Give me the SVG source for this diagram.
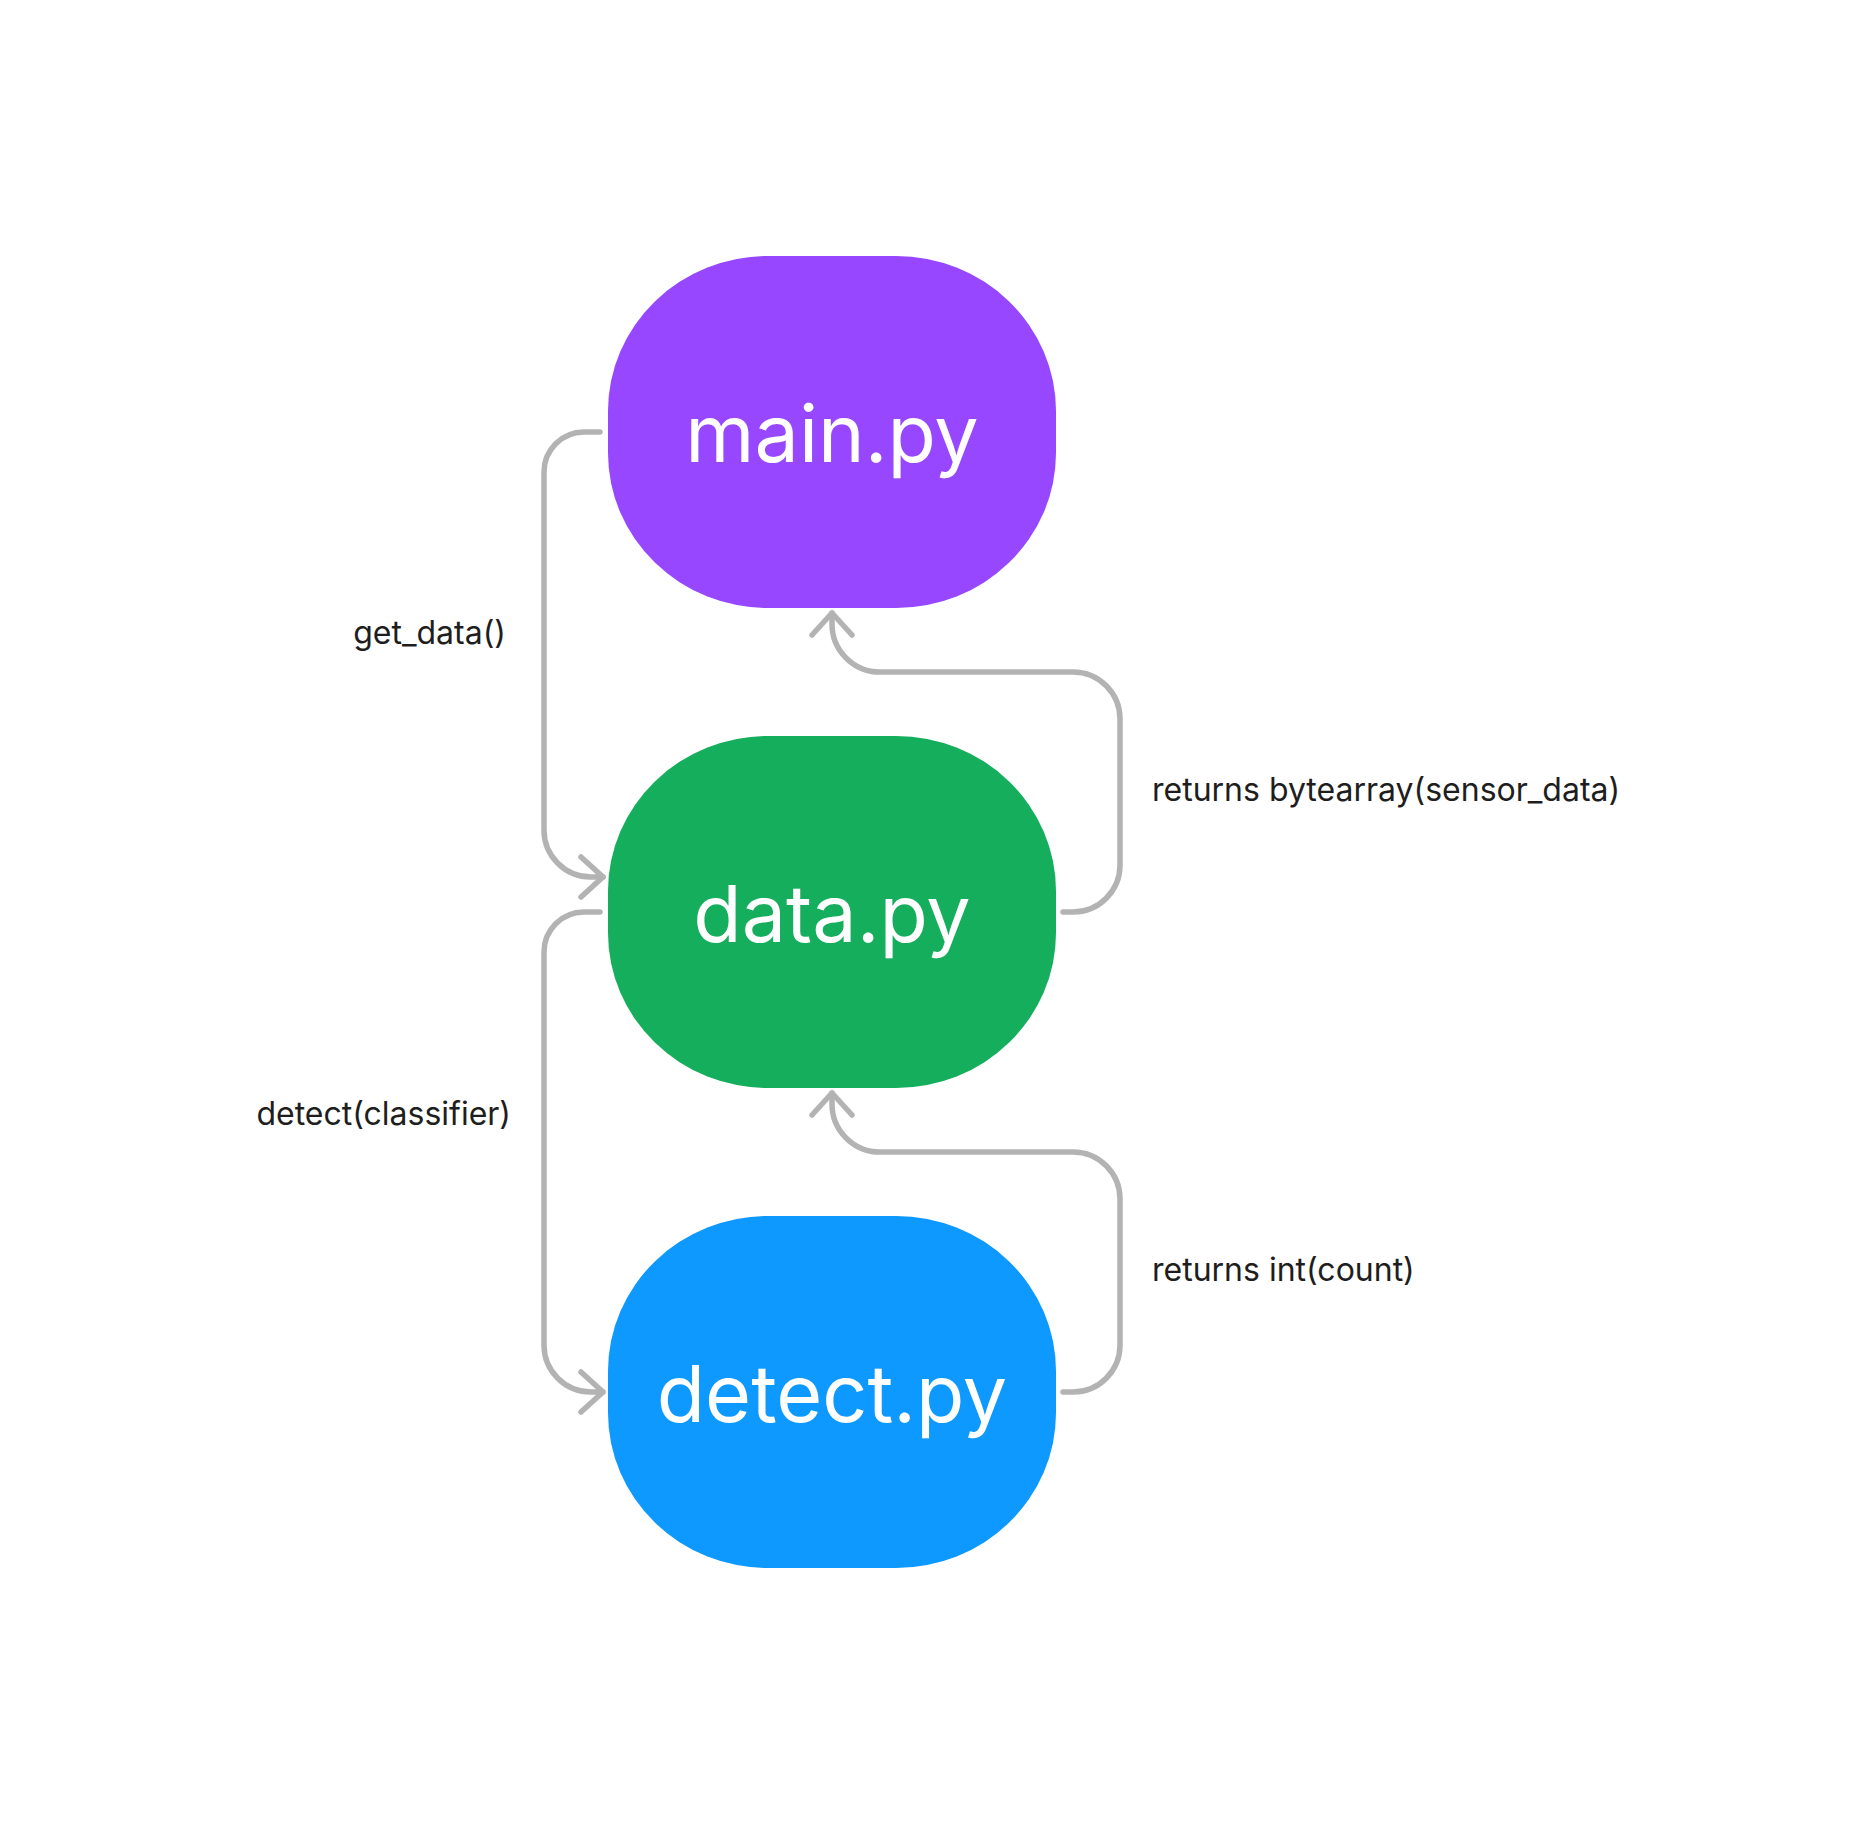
<svg xmlns="http://www.w3.org/2000/svg" width="1870" height="1824" viewBox="0 0 1870 1824">
<style>
.node-label{font-family:Inter,"Noto Sans","Liberation Sans",sans-serif;font-size:79px;fill:#FFFFFF;text-anchor:middle}
.edge-label{font-family:Inter,"Noto Sans","Liberation Sans",sans-serif;font-size:32px;fill:#1E1E1E}
.conn{fill:none;stroke:#B3B3B3;stroke-width:5.5;stroke-linecap:round;stroke-linejoin:round}
</style>
<rect width="1870" height="1824" fill="#FFFFFF"/>
<g id="connectors">
  <path class="conn" d="M600 432 H584 A40 40 0 0 0 544 472 V830 A47 47 0 0 0 591 877 H603"/>
  <path class="conn" d="M581 857 L603 877 L581 897"/>
  <path class="conn" d="M600 912 H584 A40 40 0 0 0 544 952 V1345 A47 47 0 0 0 591 1392 H603"/>
  <path class="conn" d="M581 1372 L603 1392 L581 1412"/>
  <path class="conn" d="M1063 912 H1073 A47 47 0 0 0 1120 865 V719 A47 47 0 0 0 1073 672 H880 A48 48 0 0 1 832 624 V613"/>
  <path class="conn" d="M812 635 L832 613 L852 635"/>
  <path class="conn" d="M1063 1392 H1073 A47 47 0 0 0 1120 1345 V1199 A47 47 0 0 0 1073 1152 H880 A48 48 0 0 1 832 1104 V1093"/>
  <path class="conn" d="M812 1115 L832 1093 L852 1115"/>
  <text class="edge-label" x="506" y="644" text-anchor="end">get_data()</text>
  <text class="edge-label" x="511" y="1125" text-anchor="end">detect(classifier)</text>
  <text class="edge-label" x="1152" y="801">returns bytearray(sensor_data)</text>
  <text class="edge-label" x="1152" y="1281">returns int(count)</text>
</g>
<g id="node-main">
  <rect x="608" y="256" width="448" height="352" rx="160" ry="155" fill="#9747FF"/>
  <text class="node-label" x="832" y="462">main.py</text>
</g>
<g id="node-data">
  <rect x="608" y="736" width="448" height="352" rx="160" ry="155" fill="#14AE5C"/>
  <text class="node-label" x="832" y="942">data.py</text>
</g>
<g id="node-detect">
  <rect x="608" y="1216" width="448" height="352" rx="160" ry="155" fill="#0D99FF"/>
  <text class="node-label" x="832" y="1422">detect.py</text>
</g>
</svg>
